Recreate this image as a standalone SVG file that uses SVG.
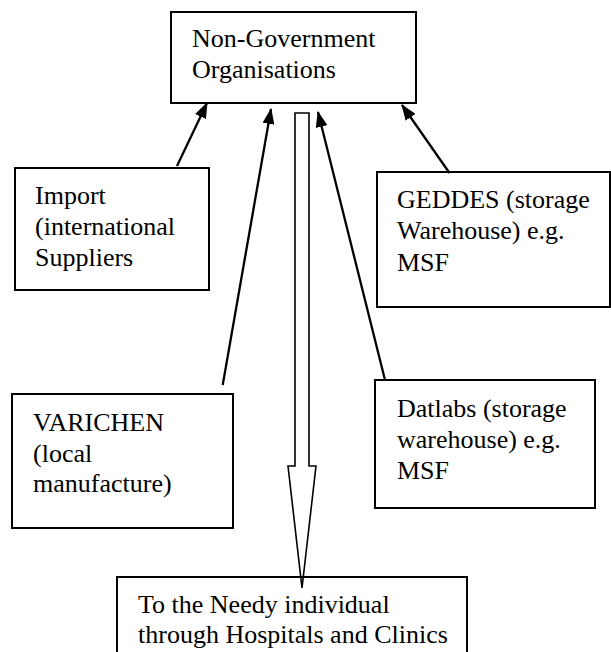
<svg xmlns="http://www.w3.org/2000/svg" width="611" height="652" viewBox="0 0 611 652">
<style>
.box{fill:#fff;stroke:#000;stroke-width:2}
.t{font-family:"Liberation Serif","Times New Roman",serif;font-size:26px;fill:#000}
.conn{stroke:#000;stroke-width:2.3;fill:none}
</style>
<defs>
<marker id="ah" markerUnits="userSpaceOnUse" markerWidth="16" markerHeight="12" refX="15" refY="6" orient="auto" viewBox="0 0 16 12">
<path d="M0,0 L16,6 L0,12 z" fill="#000"/>
</marker>
</defs>
<rect width="611" height="652" fill="#fff"/>
<g id="ngo">
<rect class="box" x="171" y="12" width="245" height="91"/>
<text class="t" x="192" y="47">Non-Government</text>
<text class="t" x="192" y="78">Organisations</text>
</g>
<g id="import">
<rect class="box" x="15" y="168" width="194" height="122"/>
<text class="t" x="35" y="204">Import</text>
<text class="t" x="35" y="235">(international</text>
<text class="t" x="35" y="266">Suppliers</text>
</g>
<g id="geddes">
<rect class="box" x="377" y="172" width="233" height="135"/>
<text class="t" x="397" y="208">GEDDES (storage</text>
<text class="t" x="397" y="239">Warehouse) e.g.</text>
<text class="t" x="397" y="271">MSF</text>
</g>
<g id="varichen">
<rect class="box" x="12" y="394" width="221" height="134"/>
<text class="t" x="33" y="431">VARICHEN</text>
<text class="t" x="33" y="462">(local</text>
<text class="t" x="33" y="492">manufacture)</text>
</g>
<g id="datlabs">
<rect class="box" x="375" y="380" width="220" height="128"/>
<text class="t" x="397" y="417">Datlabs (storage</text>
<text class="t" x="397" y="448">warehouse) e.g.</text>
<text class="t" x="397" y="479">MSF</text>
</g>
<g id="needy">
<rect class="box" x="117" y="577" width="350" height="90"/>
<text class="t" x="138" y="613">To the Needy individual</text>
<text class="t" x="138" y="643">through Hospitals and Clinics</text>
</g>
<g id="connectors">
<line class="conn" x1="177" y1="166" x2="207" y2="103" marker-end="url(#ah)"/>
<line class="conn" x1="449.5" y1="173" x2="402" y2="105" marker-end="url(#ah)"/>
<line class="conn" x1="222.7" y1="385" x2="271" y2="109" marker-end="url(#ah)"/>
<line class="conn" x1="385" y1="380" x2="318" y2="112" marker-end="url(#ah)"/>
<path d="M295,113 L309,113 L309,466 L316,466 L302,588 L288,466 L295,466 Z" fill="none" stroke="#000" stroke-width="1.6" stroke-linejoin="miter"/>
</g>
</svg>
